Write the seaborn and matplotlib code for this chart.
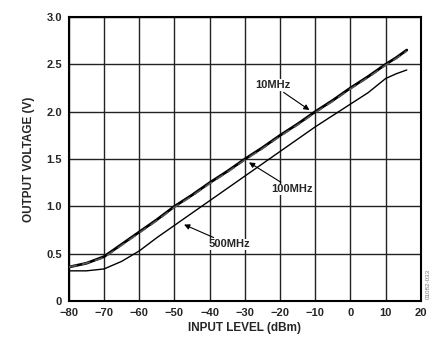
import numpy as np
import pandas as pd
import matplotlib
matplotlib.use("Agg")
import matplotlib.pyplot as plt
import seaborn as sns

# -----------------------------------------------
# dados
# -----------------------------------------------
nivel_dbm = [-80, -75, -70, -65, -60, -55, -50, -45, -40, -35, -30, -25, -20,
             -15, -10, -5, 0, 5, 10, 13, 16]
v_10mhz = [0.36, 0.40, 0.47, 0.60, 0.73, 0.86, 1.00, 1.12, 1.25, 1.37, 1.50,
           1.62, 1.75, 1.87, 2.00, 2.12, 2.25, 2.37, 2.50, 2.57, 2.65]
v_100mhz = [0.36, 0.40, 0.46, 0.59, 0.72, 0.85, 0.99, 1.11, 1.24, 1.36, 1.49,
            1.61, 1.74, 1.86, 1.99, 2.11, 2.24, 2.36, 2.49, 2.56, 2.64]
v_500mhz = [0.32, 0.32, 0.34, 0.42, 0.53, 0.67, 0.80, 0.93, 1.06, 1.19, 1.32,
            1.45, 1.58, 1.71, 1.84, 1.96, 2.08, 2.20, 2.35, 2.40, 2.44]

x_ticks = [-80, -70, -60, -50, -40, -30, -20, -10, 0, 10, 20]
y_ticks = [0, 0.5, 1.0, 1.5, 2.0, 2.5, 3.0]
y_labels = ["0", "0.5", "1.0", "1.5", "2.0", "2.5", "3.0"]

df = pd.DataFrame({"nivel": nivel_dbm * 3,
                   "v": v_10mhz + v_100mhz + v_500mhz,
                   "freq": ["10MHz"] * len(nivel_dbm) + ["100MHz"] * len(nivel_dbm)
                           + ["500MHz"] * len(nivel_dbm)})

sns.set_style("white")
plt.rcParams["font.family"] = ["Liberation Sans", "DejaVu Sans"]
plt.rcParams["font.weight"] = "bold"

fig = plt.figure(figsize=(4.33, 3.38), dpi=100)
ax = fig.add_axes([0.159, 0.109, 0.813, 0.841])

sns.lineplot(data=df[df.freq == "10MHz"], x="nivel", y="v", color="black",
             linewidth=2.0, ax=ax, zorder=3)
sns.lineplot(data=df[df.freq == "100MHz"], x="nivel", y="v", color="#555555",
             linewidth=1.2, linestyle=(0, (5, 3)), ax=ax, zorder=4)
sns.lineplot(data=df[df.freq == "500MHz"], x="nivel", y="v", color="black",
             linewidth=1.0, ax=ax, zorder=3)

ax.set_xlim(-80, 20)
ax.set_ylim(0, 3.0)
ax.set_xticks(x_ticks)
ax.set_xticklabels([str(t).replace("-", "\u2212") for t in x_ticks])
ax.set_yticks(y_ticks)
ax.set_yticklabels(y_labels)
ax.grid(True, color="#222222", linewidth=1.0)
ax.tick_params(labelsize=8, length=0)
ax.tick_params(axis="x", pad=5)
ax.tick_params(axis="y", pad=5)
for s in ax.spines.values():
    s.set_visible(True)
    s.set_color("black")
    s.set_linewidth(1.5)

ax.set_xlabel("INPUT LEVEL (dBm)", fontsize=8.5, fontweight="bold", labelpad=2.5)
ax.set_ylabel("OUTPUT VOLTAGE (V)", fontsize=8.5, fontweight="bold", labelpad=8)

seta = dict(arrowstyle="-|>", color="black", lw=0.8, mutation_scale=8)
ax.annotate("10MHz", xy=(-11, 2.0), xytext=(-22, 2.28), fontsize=8,
            fontweight="bold", ha="center", va="center", arrowprops=seta,
            bbox=dict(facecolor="white", edgecolor="none", pad=0.5))
ax.annotate("100MHz", xy=(-29.5, 1.48), xytext=(-16.5, 1.18), fontsize=8,
            fontweight="bold", ha="center", va="center", arrowprops=seta,
            bbox=dict(facecolor="white", edgecolor="none", pad=0.5))
ax.annotate("500MHz", xy=(-48, 0.82), xytext=(-34.5, 0.60), fontsize=8,
            fontweight="bold", ha="center", va="center", arrowprops=seta,
            bbox=dict(facecolor="white", edgecolor="none", pad=0.5))

fig.text(0.99, 0.16, "01082-033", rotation=90, fontsize=4.5, color="#777777",
         ha="center", va="center", fontweight="normal")

fig.savefig("out.png", dpi=100)
